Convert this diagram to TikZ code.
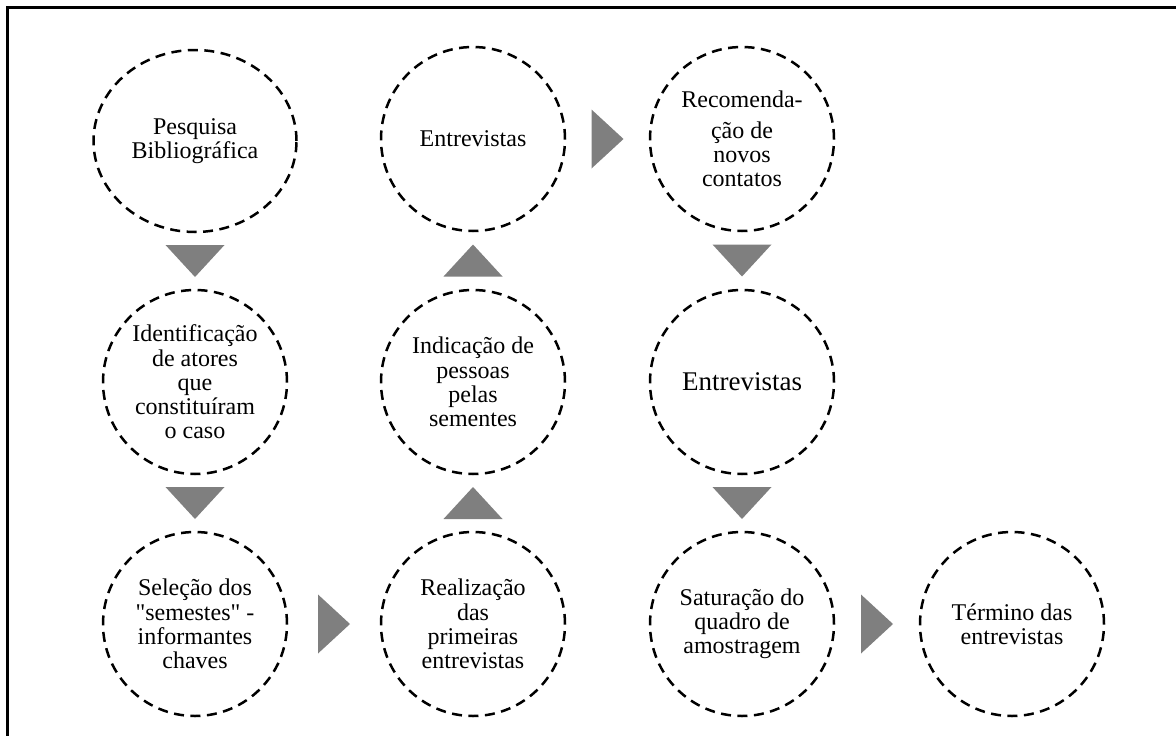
\documentclass[tikz,border=0pt]{standalone}
\usepackage{fontspec}
\setmainfont{Liberation Serif}[Ligatures=TeXOff]
\usetikzlibrary{shapes,decorations.markings}
\definecolor{setacinza}{HTML}{7F7F7F}
\tikzset{
etapa/.style={draw,circle,line width=2.5pt,dash pattern=on 10pt off 6.5pt,minimum size=184pt,inner sep=0pt,align=center,font=\fontsize{24}{24.2}\selectfont},
seta/.style={postaction={decorate},decoration={markings,mark=at position 0.5 with {\fill[setacinza] (-16,-29.5) -- (16,0) -- (-16,29.5) -- cycle;}}}
}

\begin{document}
\begin{tikzpicture}[x=1pt,y=-1pt]
\useasboundingbox (0,0) rectangle (1176,736);
\clip (0,0) rectangle (1176,736);
\draw[line width=2.5pt] (7.5,745) -- (7.5,7.5) -- (1185,7.5);
\node(pesquisa)[etapa,ellipse,minimum width=203pt,minimum height=182pt] at (195,141) {Pesquisa\\Bibliográfica};
\node(identificacao)[etapa] at (195,382) {Identificação\\de atores\\que\\constituíram\\o caso};
\node(selecao)[etapa] at (195,624) {Seleção dos\\"semestes" -\\informantes\\chaves};
\node(entrevistas)[etapa] at (473,139) {Entrevistas};
\node(indicacao)[etapa] at (473,382) {Indicação de\\pessoas\\pelas\\sementes};
\node(realizacao)[etapa] at (473,624) {Realização\\das\\primeiras\\entrevistas};
\node(recomendacao)[etapa] at (742,139) {Recomenda-\\[6pt]ção de\\novos\\contatos};
\node(entrevistasb)[etapa,font=\fontsize{27}{27}\selectfont] at (742,382) {Entrevistas};
\node(saturacao)[etapa] at (742,624) {Saturação do\\quadro de\\amostragem};
\node(termino)[etapa] at (1012,624) {Término das\\entrevistas};
\path[seta] (pesquisa) -- (identificacao);
\path[seta] (identificacao) -- (selecao);
\path[seta] (selecao) -- (realizacao);
\path[seta] (realizacao) -- (indicacao);
\path[seta] (indicacao) -- (entrevistas);
\path[seta] (entrevistas) -- (recomendacao);
\path[seta] (recomendacao) -- (entrevistasb);
\path[seta] (entrevistasb) -- (saturacao);
\path[seta] (saturacao) -- (termino);
\end{tikzpicture}
\end{document}
